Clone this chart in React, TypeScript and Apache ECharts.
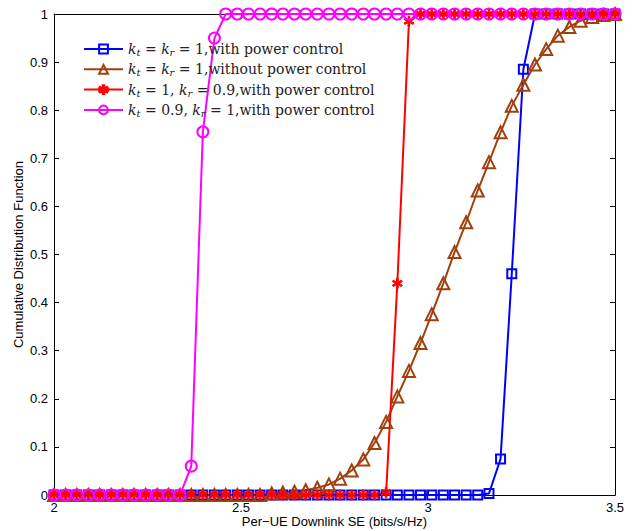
import React, { useEffect, useRef } from "react";
import * as echarts from "echarts";

const xValues = [
  2.000, 2.031, 2.061, 2.092, 2.122, 2.153, 2.184, 2.214, 2.245, 2.276,
  2.306, 2.337, 2.367, 2.398, 2.429, 2.459, 2.490, 2.520, 2.551, 2.582,
  2.612, 2.643, 2.673, 2.704, 2.735, 2.765, 2.796, 2.827, 2.857, 2.888,
  2.918, 2.949, 2.980, 3.010, 3.041, 3.071, 3.102, 3.133, 3.163, 3.194,
  3.224, 3.255, 3.286, 3.316, 3.347, 3.378, 3.408, 3.439, 3.469, 3.500,
];

const bluePC = [
  0, 0, 0, 0, 0, 0, 0, 0, 0, 0,
  0, 0, 0, 0, 0, 0, 0, 0, 0, 0,
  0, 0, 0, 0, 0, 0, 0, 0, 0, 0,
  0, 0, 0, 0, 0, 0, 0, 0, 0.003, 0.075,
  0.46, 0.885, 1, 1, 1, 1, 1, 1, 1, 1,
];

const brownNoPC = [
  0, 0, 0, 0, 0, 0, 0, 0, 0, 0,
  0, 0, 0, 0, 0, 0, 0, 0, 0, 0.003,
  0.005, 0.007, 0.01, 0.015, 0.022, 0.034, 0.051, 0.074, 0.108, 0.152,
  0.205, 0.258, 0.316, 0.376, 0.44, 0.505, 0.567, 0.633, 0.692, 0.754,
  0.809, 0.853, 0.895, 0.927, 0.955, 0.973, 0.986, 0.994, 0.998, 1,
];

const redKr09 = [
  0, 0, 0, 0, 0, 0, 0, 0, 0, 0,
  0, 0, 0, 0, 0, 0, 0, 0, 0, 0,
  0, 0, 0, 0, 0, 0, 0, 0, 0, 0.005,
  0.44, 0.985, 1, 1, 1, 1, 1, 1, 1, 1,
  1, 1, 1, 1, 1, 1, 1, 1, 1, 1,
];

const magentaKt09 = [
  0, 0, 0, 0, 0, 0, 0, 0, 0, 0,
  0, 0, 0.06, 0.755, 0.95, 1, 1, 1, 1, 1,
  1, 1, 1, 1, 1, 1, 1, 1, 1, 1,
  1, 1, 1, 1, 1, 1, 1, 1, 1, 1,
  1, 1, 1, 1, 1, 1, 1, 1, 1, 1,
];

const seriesNames = [
  "k_t = k_r = 1,with power control",
  "k_t = k_r = 1,without power control",
  "k_t = 1, k_r = 0.9,with power control",
  "k_t = 0.9, k_r = 1,with power control",
];

const legendRich: Record<string, string> = {
  [seriesNames[0]]: "{i|k}{s|t} = {i|k}{s|r} = 1,with power control",
  [seriesNames[1]]: "{i|k}{s|t} = {i|k}{s|r} = 1,without power control",
  [seriesNames[2]]: "{i|k}{s|t} = 1, {i|k}{s|r} = 0.9,with power control",
  [seriesNames[3]]: "{i|k}{s|t} = 0.9, {i|k}{s|r} = 1,with power control",
};

const xTicks = { min: 2, max: 3.5, interval: 0.5 };
const yTicks = { min: 0, max: 1, interval: 0.1 };

const STAR =
  "path://M4.2,0 L5.8,0 L5.8,3.6 L8.9,1.8 L9.7,3.2 L6.6,5 L9.7,6.8 L8.9,8.2 L5.8,6.4 L5.8,10 L4.2,10 L4.2,6.4 L1.1,8.2 L0.3,6.8 L3.4,5 L0.3,3.2 L1.1,1.8 L4.2,3.6 Z";

const LEGEND_FONT = "DejaVu Serif";

export default function App() {
  const ref = useRef<HTMLDivElement>(null);
  useEffect(() => {
    if (!ref.current) return;
    const chart = echarts.init(ref.current, undefined, { renderer: "svg" });
    const pair = (ys: number[]) => xValues.map((x, i) => [x, ys[i]]);
    const axisCommon = {
      axisLine: { show: true, onZero: false, lineStyle: { color: "#000", width: 1 } },
      axisTick: { show: true, inside: true, length: 5, lineStyle: { color: "#000" } },
      splitLine: { show: false },
    };
    const mk = (
      name: string,
      ys: number[],
      color: string,
      symbol: string,
      size: number,
      filled: boolean
    ) => ({
      name,
      type: "line",
      data: pair(ys),
      xAxisIndex: 0,
      yAxisIndex: 0,
      symbol,
      symbolSize: size,
      showAllSymbol: true,
      clip: false,
      lineStyle: { color, width: 2 },
      itemStyle: {
        color: filled ? color : "rgba(255,255,255,0)",
        borderColor: color,
        borderWidth: filled ? 1 : 2,
      },
      emphasis: { disabled: true },
    });
    chart.setOption({
      animation: false,
      backgroundColor: "#fff",
      textStyle: { fontFamily: "Liberation Sans" },
      grid: {
        left: 54,
        top: 14,
        width: 561,
        height: 481,
        containLabel: false,
        outerBoundsMode: "none",
      },
      legend: {
        orient: "vertical",
        left: 78,
        top: 35,
        itemWidth: 39,
        itemHeight: 11,
        itemGap: 2.3,
        data: seriesNames,
        formatter: (name: string) => legendRich[name] || name,
        textStyle: {
          fontFamily: LEGEND_FONT,
          fontSize: 14,
          lineHeight: 18,
          color: "#222",
          rich: {
            i: { fontFamily: LEGEND_FONT, fontStyle: "italic", fontSize: 14, color: "#222" },
            s: {
              fontFamily: LEGEND_FONT,
              fontStyle: "italic",
              fontSize: 10,
              color: "#222",
              padding: [7, 0, 0, 0],
            },
          },
        },
      },
      xAxis: [
        {
          type: "value",
          position: "bottom",
          ...xTicks,
          ...axisCommon,
          name: "Per\u2212UE Downlink SE (bits/s/Hz)",
          nameLocation: "middle",
          nameGap: 20,
          nameMoveOverlap: false,
          nameTextStyle: { fontFamily: "Liberation Sans", fontSize: 13, color: "#000" },
          axisLabel: { fontFamily: "Liberation Sans", fontSize: 13, color: "#000", margin: 6 },
        },
        {
          type: "value",
          position: "top",
          ...xTicks,
          ...axisCommon,
          axisLabel: { show: false },
        },
      ],
      yAxis: [
        {
          type: "value",
          position: "left",
          ...yTicks,
          ...axisCommon,
          name: "Cumulative Distribution Function",
          nameLocation: "middle",
          nameGap: 29,
          nameMoveOverlap: false,
          nameTextStyle: { fontFamily: "Liberation Sans", fontSize: 13, color: "#000" },
          axisLabel: { fontFamily: "Liberation Sans", fontSize: 13, color: "#000", margin: 6 },
        },
        {
          type: "value",
          position: "right",
          ...yTicks,
          ...axisCommon,
          axisLabel: { show: false },
        },
      ],
      series: [
        mk(seriesNames[0], bluePC, "#0000FF", "rect", 9, false),
        mk(seriesNames[1], brownNoPC, "#A0410D", "triangle", 12, false),
        mk(seriesNames[2], redKr09, "#FF0000", STAR, 10, true),
        mk(seriesNames[3], magentaKt09, "#FF00FF", "circle", 11, false),
      ],
    });
    return () => chart.dispose();
  }, []);
  return (
    <div
      ref={ref}
      style={{ position: "absolute", left: 0, top: 0, width: 640, height: 531 }}
    />
  );
}
